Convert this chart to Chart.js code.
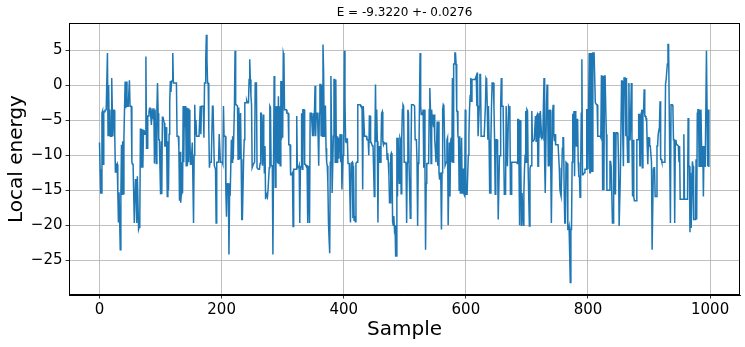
<!DOCTYPE html>
<html>
<head>
<meta charset="utf-8">
<script src="https://cdn.jsdelivr.net/npm/chart.js@4.4.1/dist/chart.umd.min.js"></script>
<style>
html,body{margin:0;padding:0;background:#fff;}
#wrap{width:745px;height:347px;position:relative;}
canvas{display:block;}
</style>
</head>
<body>
<div id="wrap"><canvas id="c" width="745" height="347"></canvas></div>
<script>
// ---- data ----
const chartTitle = "E = -9.3220 +- 0.0276";
const xLabel = "Sample";
const yLabel = "Local energy";
const xTicks = [0, 200, 400, 600, 800, 1000];
const yTicks = [-25, -20, -15, -10, -5, 0, 5];
const localEnergy = [
-8.2,-12,-15.4,-15.4,-4,-3.7,-11.3,-3.8,-3.8,-3.6,
-3.6,-3.5,-3.5,4.6,-7.2,0,-7.2,-3.5,-7.3,-7.3,
1.0,-3.6,-7.3,-3.6,-3.6,-7,-12.4,-11.3,-11.5,-11.3,
-15.3,-19.6,-15.3,-15.3,-23.5,-15.6,-8.5,-15.6,-8,-15.5,
-7.5,-3.3,0.5,-3.3,0.5,-3,-3,-3,-3,0.7,
-3,-3,-3,-11,-11.3,-11.3,-11.3,-19.7,-19.7,-13.5,
-13.5,-19.7,-13,-13,-20.6,-20.3,-19.8,-6.3,-6.3,-11.8,
-6.3,-11.8,-6.5,-6.5,-7,-7,4.1,-9,-9,-4.4,
-4.4,-3.8,-3.3,-3.3,-3.3,-5.7,-3.3,-3.3,-4.8,-3.3,
-11.2,-3.5,-3.5,-11.2,-3.5,0.3,-4,-7.8,-7.8,-7.8,
-15.6,-8,-15.6,-4.6,-4.6,-4.6,-5.4,-8.7,-8.7,-6,
-8.7,-15.9,-8,-15,-7,-2.5,0.6,-1,0.6,0.6,
4.6,0.3,0.3,0.3,0.3,0.3,0.3,-7.3,-7.3,-7.3,
-9,-16.5,-9.5,-16.8,-15.5,-11,-15.4,-3,-11,-3,
-6,-3,-11.5,-3.2,-11.5,-3.3,-11,-3.5,-7.5,-11.3,
-11.3,-11.3,-8.2,-8.2,-19.7,-10,-2.8,-7,-5,-7.3,
-7.3,-7.3,-7.3,-7.3,-7.3,-3,-7,-3,-3,-3,
-3,-7.5,0.3,0.3,3.7,7.2,3.7,0.3,0.3,-6.3,
-11.8,-11,-11,-11,-11,-3,-3,-3,-11.5,-11.5,
-12,-19.7,-11,-11,-11,-11,-7,-7,-11,-11,
-11,-11,-11.3,-3,-7.3,-7.3,-7.3,-15.5,-18.8,-14,
-15.5,-14,-24.2,-15.7,-15.7,-15.7,-7.8,-11,-7.3,-10.6,
-10.6,-3,4.9,-2.8,-2.8,-2.8,-3,-10.6,-3.2,-5.5,
-10.6,-4,-10.6,-19.2,-19.2,-19.2,-10.6,-7.8,-2.5,-2.5,
-2.5,-2.2,-2.5,-2.5,-2.5,0.8,3.7,0.8,-1.5,-2.8,
-11.8,-11.8,-11.3,-11.3,-11,0.3,0.3,0.3,-11.8,-11.8,
-12,-12,-12,-11.2,-4,-4,-4,-11.5,-4.2,-8.7,
-12.5,-8.7,-16.3,-15.5,-15.5,-16,-15,-15,-11.8,-3,
-3.2,-11.5,-11.5,-11.5,-24.2,-11.5,1.3,-3,-14.6,-3,
-11,-3,-11.2,-1.6,-11.2,-3,-11.5,0.6,-7.8,0.6,
-7.5,4.6,4.2,-3.5,-3.5,-3.5,-3.5,-4,-4,-4,
-8.5,-8.5,-8.5,-12.8,-12.8,-12.8,-12.5,-20.2,-12,-12,
-12,-12,-12,-4.4,-11.8,-11.8,-11.8,-11.5,-19.7,-11.7,
-11.7,-4,-12,-3.5,-3.5,-3.5,-11.3,-11.3,-11.5,-11.5,
-11.5,-19.7,-11.5,-11.5,-19.7,-4,-4,-4,-4,-7.3,
-4,-7.3,-4,-0.1,-7.3,-4,-4,-4,-7.3,-11.5,
-4,0.1,0.1,-7.2,0.1,-7.3,5.8,2,-7.3,-3,
-3,-9,-11,-11.5,-14,-19.7,-22,-24,-11,1.3,
-7,-15.4,-15.4,-7.3,0.8,0.8,-11,0.8,-11,-11,
-7.3,-10.4,-7.5,-9.5,-7,-11,-7,-14.9,-12,-10,
-9,4.9,-2,-8,-8.2,-7.7,-7.7,-11.2,-11.2,-11.2,
-11.2,-19.6,-11.2,-11.2,-11,-19,-11.5,-19.3,-18.7,-19.5,
-11.2,-11,-11,-2.8,-2.8,-2.8,-2.8,-2.8,-3,-3,
-3.2,-14.9,-3,-3,-7.3,-7.3,-7.3,-7.3,-7.8,-7.8,
-7.8,-10,-4.4,-4.4,-8.2,-8.2,-8.2,-8.7,-8.7,-8.7,
-15.9,-8.7,0.1,-8,-3.5,-8,-19.6,-8.7,-11,-8.7,
-11,-8.7,-4,-3.8,-8,-8.5,-8.2,-8.3,-8.3,-8.3,
-8.3,-10.6,-9.7,-11,-13,-16.8,-16.8,-10,-9.7,-10,
-19.5,-20,-18.7,-20.5,-20,-24.4,-24.4,-7.5,-15.9,-7.5,
-7.5,-14,-7.5,-7.8,-15.5,-7.5,-3.5,-2.8,-3,-11,
-11,-11,-11.2,-19.7,-11,-3.5,-4,-11.5,-11.5,-19,
-11,-2.8,-2.8,-2.8,-2.8,-2.8,-3,-7.8,-7.8,-7.8,
-11,-20.1,-11.2,-11,-3,4.6,-3,-4.2,-4.2,-4.2,
-3.5,-11.8,-3.5,-11.5,-23.5,-14,-11.2,-11.2,-11.2,-11,
-3.5,-0.4,-3.5,-11.2,-3.5,-5.5,-4.2,-6,-4.2,-7.8,
-9.2,-11,-8.5,-5.2,-11.5,-5.2,-12.5,-13.5,-12.5,-13.5,
-20.6,-12.5,-3.5,-2.8,-3,-7.3,-11.5,-11.5,-11,-7.8,
-7.5,-20,-20,-8.2,-15.9,-8.2,-7.5,-11,1,-11,
3,3,4.6,4.6,3,-3.7,-3.7,-7.3,-7.5,-15,
-7.3,-15.4,-12,-7.5,-15.4,-12,-12,-15.6,-15.8,-3.5,
-15.6,-15.6,-15.6,-15.6,-10,-7,-3.5,-1.5,1,-2.3,
0.8,0.8,0.8,0.8,0.8,0.8,0.8,1.3,-3,1.8,
-7.3,-7.3,-3,1.5,1.5,-7.3,-7.3,-7.3,-7.3,-7.3,
-7.3,-7.3,-3,1,0.8,-3,-7.8,-3,-7.8,-15.4,
-15.4,-7.8,-3,0.3,0.3,0.3,-3,-7.8,-15.6,-7.8,
-7.8,-7.8,-11,-19.2,-19.2,-10.1,-10.1,-3,1,-3,
-3,-3,-3,-15.6,-15.6,-15.6,-3,-3,-11.6,-11.6,
-3,-3.2,-3,-15.6,-15.6,-11,-11,-11,-11,-11,
-11,-11,-11,-11,-11.2,-4.9,-4.9,-11.5,-20,-5,
-11.5,-20.1,-15.4,-15.4,-20,-15.4,-12,-10,-3.7,-11,
-3.5,-3.7,-12,-12,-20.1,-12,-11.5,-11.5,-3.7,-8,
-8,-8,-7.8,-7.8,-4.4,-8,-4.4,-4.2,-11.6,-11.6,
-4,-7.5,-3.7,-3.7,-7.5,-7.3,-7.5,-3,1,-11,
-15.4,-15.4,-3,0.1,-3.5,-11.5,-3.5,-11.5,-3.5,-11.5,
-19.7,-19.7,-4,-2.8,-7,-8,-7,-8.5,-8.5,-8.5,
-8.5,-8.5,-8.5,-11.8,-14.9,-15.5,-15.9,-15.9,-9,-7.5,
-7.5,-15,-19.7,-19.7,-11,-11,-11.2,-20.6,-20.6,-20.2,
-24,-28.2,-20.6,-20.6,-11,-4.2,-4.2,-3.7,-13,-3.7,
-4.5,-8.7,-4.9,-4.9,-11,-13,-13,-16,-12,-4,
3.7,-12.8,-12.8,-12.8,-12.5,-12,-12,-12,-3.5,-3.5,
-12,-3.5,4.6,-12.5,-12.5,4.6,-12.3,-12.3,4.6,4.6,
4.6,4.6,-2.5,-2.5,-2.8,-2.8,-7.3,-7.3,-7.3,-7.3,
-7.3,-7.5,1.3,1.3,-15,1.3,-15,1.3,1.3,1.3,
-7,-15,-15,-15,-15,-15,-10.9,-10.9,-11.6,-11.6,
-19.7,-19.7,-6.8,-6.8,-15.5,-15.5,-6.8,-6.8,-6.8,-7,
-11,-20.1,-20.1,-13,-13,0.6,0.6,-7.3,-11.6,1,
1,1,-7.3,1,-7.3,-11,-11,0.3,-7.8,-7.8,
-7.8,0.3,-7.8,-15.9,-7.8,-16,-16.5,-16.5,-16.5,-16.5,
-7.8,-7.8,-7.8,-4.2,-4.2,-11.5,-11.5,-4,-3.5,-11.8,
-3.5,-4,-0.6,-4.4,-4.4,-4.8,-4.8,-8.7,-11.3,-7.5,
-7.5,-8.7,-8.7,-8.7,-11,-23.5,-23.5,-12,-11.8,-11.8,
-15.9,-15.9,-15.9,-8.7,-8.7,-7,-7,-6,-2.3,-10.6,
-10.6,-11,-11,-11,-11,-11,-9,0.1,0.8,0.8,
3,5.8,5.8,-2.8,-2.8,-19.7,-2.8,-2.8,-2.8,-3,
-7.8,-7.8,-19.7,-8.5,-7.8,-8.5,-8.5,-8.5,-8.7,-11,
-8.7,-16.3,-16.3,-16.3,-16.3,-16.3,-16.3,-7,-16.3,-16.3,
-16.3,-16.3,-16.3,-16.3,-4.7,-11.6,-11.6,-21,-12.5,-20.4,
-20.4,-10.9,-11.6,-19.2,-19.2,-19.2,-19.2,-10.6,-19.2,-4,
-3.5,-3.5,-11.6,-3.5,-11.6,-3.5,-8.7,-11.6,-8.7,-15.9,
-8.7,-11.6,-11.6,-11.6,4.9,-3.5,-11.6,-3.5,-11.6,-11.6
];
const sampleIndex = localEnergy.map((_, i) => i);

// ---- chart ----
Chart.defaults.font.family = "'DejaVu Sans', sans-serif";
Chart.defaults.color = '#000';

const minus = v => (v < 0 ? '\u2212' + Math.abs(v) : String(v));

const frameAndTitle = {
  id: 'frameAndTitle',
  afterDatasetsDraw(chart) {
    const {ctx, chartArea: a} = chart;
    ctx.save();
    ctx.strokeStyle = '#000';
    ctx.lineWidth = 1;
    ctx.strokeRect(Math.round(a.left) + 0.5, Math.round(a.top) + 0.5,
                   Math.round(a.right - a.left) - 1, Math.round(a.bottom - a.top) - 1);
    ctx.restore();
  },
  afterDraw(chart) {
    const {ctx, chartArea: a} = chart;
    ctx.save();
    ctx.fillStyle = '#000';
    ctx.font = "12px 'DejaVu Sans'";
    ctx.textAlign = 'center';
    ctx.textBaseline = 'middle';
    ctx.fillText(chartTitle, (a.left + a.right) / 2, 13);
    ctx.restore();
  }
};

new Chart(document.getElementById('c'), {
  type: 'line',
  data: {
    datasets: [{
      data: sampleIndex.map((x, i) => ({x: x, y: localEnergy[i]})),
      borderColor: '#1f77b4',
      borderWidth: 1.5,
      pointRadius: 0,
      tension: 0,
      fill: false
    }]
  },
  options: {
    responsive: false,
    animation: false,
    events: [],
    layout: {padding: {top: 23, right: 5, bottom: 0, left: 0}},
    plugins: {legend: {display: false}, tooltip: {enabled: false}, title: {display: false}},
    scales: {
      x: {
        type: 'linear',
        min: -49.95,
        max: 1048.95,
        afterBuildTicks: s => { s.ticks = xTicks.map(v => ({value: v})); },
        afterFit: s => { s.height = 52; },
        ticks: {autoSkip: false, maxRotation: 0, padding: 3, font: {size: 15}, color: '#000', callback: v => String(v)},
        grid: {color: '#b0b0b0', lineWidth: 0.8, tickColor: '#000', tickLength: 3.5, drawTicks: true},
        border: {display: true, color: '#000', width: 1},
        title: {display: true, text: xLabel, font: {size: 20}, color: '#000', padding: {top: 0, bottom: 5}}
      },
      y: {
        type: 'linear',
        min: -29.97,
        max: 8.87,
        afterBuildTicks: s => { s.ticks = yTicks.map(v => ({value: v})); },
        afterFit: s => { s.width = 69; },
        ticks: {autoSkip: false, padding: 3, font: {size: 15}, color: '#000', callback: v => minus(v)},
        grid: {color: '#b0b0b0', lineWidth: 0.8, tickColor: '#000', tickLength: 3.5, drawTicks: true},
        border: {display: true, color: '#000', width: 1},
        title: {display: true, text: yLabel, font: {size: 20}, color: '#000', padding: {top: 5, bottom: 0}}
      }
    }
  },
  plugins: [frameAndTitle]
});
</script>
</body>
</html>
